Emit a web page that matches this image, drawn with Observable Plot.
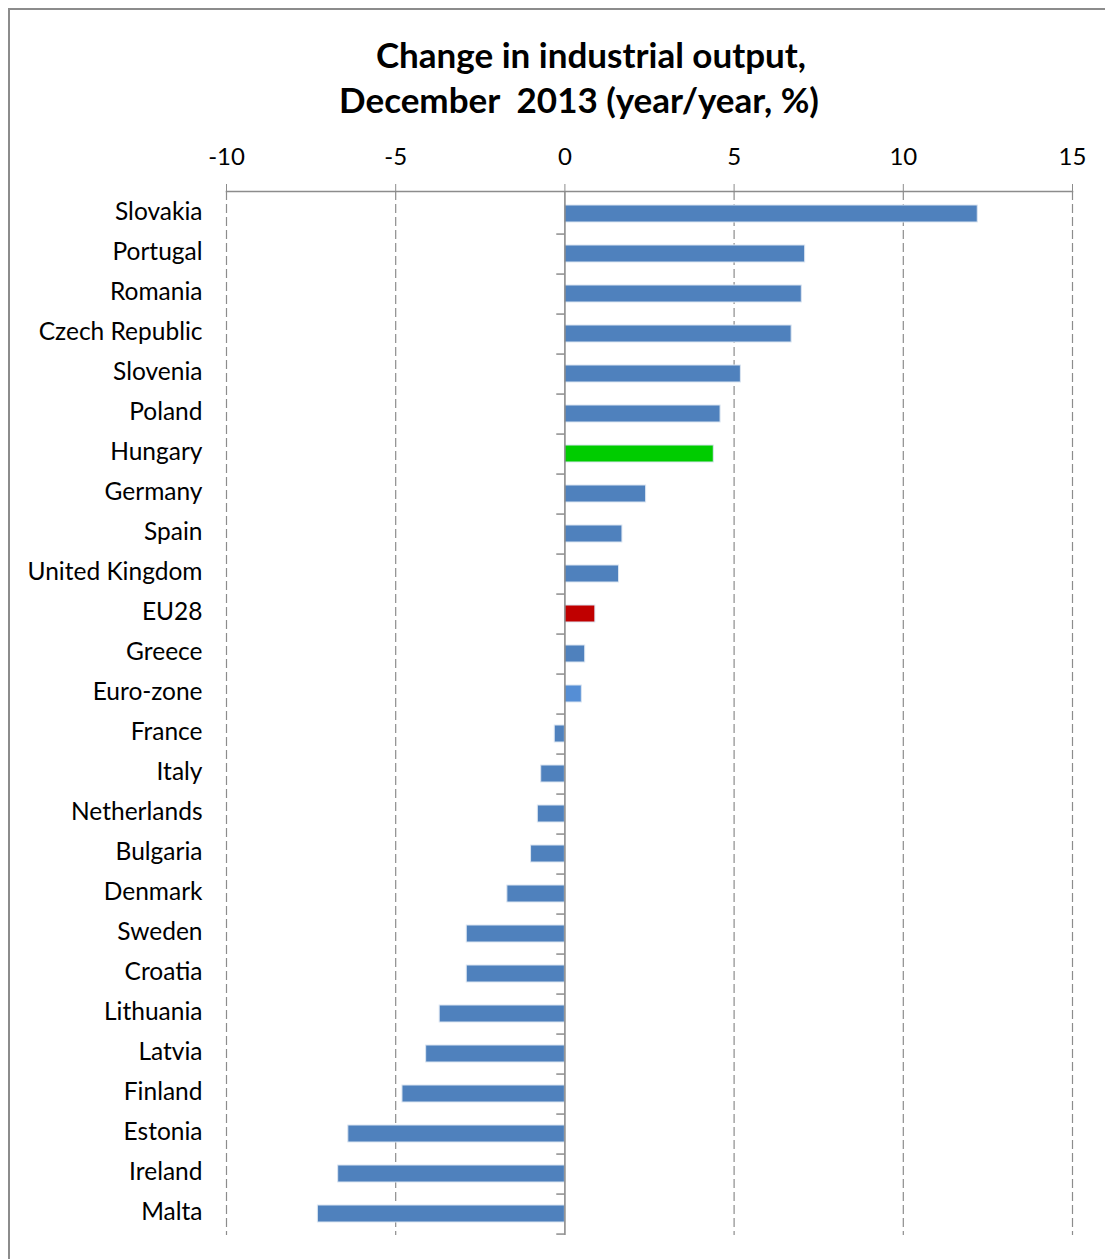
<!DOCTYPE html>
<html>
<head>
<meta charset="utf-8">
<script src="https://cdn.jsdelivr.net/npm/d3@7"></script>
<script src="https://cdn.jsdelivr.net/npm/@observablehq/plot@0.6"></script>
<style>
  html, body { margin: 0; padding: 0; background: #fff; overflow: hidden; }
  #frame { position: absolute; left: 8px; top: 8px; width: 1200px; height: 1400px; border: 2px solid #8c8c8c; box-sizing: border-box; }
  #title { position: absolute; left: 0; top: 32px; width: 1182px; text-align: center; font-family: Lato, "Open Sans", sans-serif; font-weight: bold; font-size: 35px; line-height: 45px; color: #000; }
  #title .l2 { position: relative; left: -12px; }
  #chart { position: absolute; left: 0; top: 130px; }
  #chart svg { overflow: visible; }
</style>
</head>
<body>
<div id="frame"></div>
<div id="title">Change in industrial output,<br><span class="l2">December&nbsp; 2013 (year/year, %)</span></div>
<div id="chart"></div>
<script>
const countries = ["Slovakia", "Portugal", "Romania", "Czech Republic", "Slovenia", "Poland", "Hungary", "Germany", "Spain", "United Kingdom", "EU28", "Greece", "Euro-zone", "France", "Italy", "Netherlands", "Bulgaria", "Denmark", "Sweden", "Croatia", "Lithuania", "Latvia", "Finland", "Estonia", "Ireland", "Malta"];
const values = [12.2, 7.1, 7.0, 6.7, 5.2, 4.6, 4.4, 2.4, 1.7, 1.6, 0.9, 0.6, 0.5, -0.3, -0.7, -0.8, -1.0, -1.7, -2.9, -2.9, -3.7, -4.1, -4.8, -6.4, -6.7, -7.3];
const xTicks = [-10, -5, 0, 5, 10, 15];
const highlight = { "Hungary": "#00CC00", "EU28": "#C00000", "Euro-zone": "#558ED5" };
const baseColor = "#4F81BD";

const data = countries.map((c, i) => ({ country: c, value: values[i], color: highlight[c] || baseColor }));

const height = 1129, marginTop = 61, marginBottom = 24;
const step = (height - marginTop - marginBottom) / countries.length;

const chart = Plot.plot({
  width: 1105,
  height,
  marginTop,
  marginBottom,
  marginLeft: 226,
  marginRight: 33,
  style: { fontFamily: "Lato, 'Open Sans', sans-serif", fontSize: "24.5px", color: "#000", background: "transparent" },
  x: { domain: [-10, 15], axis: null, label: null },
  y: { domain: countries, paddingInner: 0.58, paddingOuter: 0.29, axis: null, label: null },
  marks: [
    Plot.gridX(xTicks.filter(d => d !== 0), { stroke: "#8c8c8c", strokeOpacity: 1, strokeDasharray: "9,4", strokeWidth: 1.2 }),
    Plot.frame({ anchor: "top", stroke: "#8c8c8c", strokeWidth: 1.5 }),
    Plot.axisX(xTicks, { anchor: "top", label: null, tickSize: 8, tickPadding: 19, tickFormat: d => String(d), stroke: "#8c8c8c", fontSize: 24, fill: "#000" }),
    Plot.barX(data, { x: "value", y: "country", fill: "color", stroke: "#dbe5f1", strokeWidth: 1 }),
    Plot.ruleX([0], { stroke: "#8c8c8c", strokeWidth: 1.6 }),
    Plot.ruleY(countries, { y: d => d, x1: -0.24, x2: 0, dy: step / 2, stroke: "#8c8c8c", strokeWidth: 1.5 }),
    Plot.axisY({ anchor: "left", label: null, tickSize: 0, tickPadding: 24, dy: -2, fontSize: 24.5, fill: "#000" })
  ]
});
document.getElementById("chart").appendChild(chart);
</script>
</body>
</html>
